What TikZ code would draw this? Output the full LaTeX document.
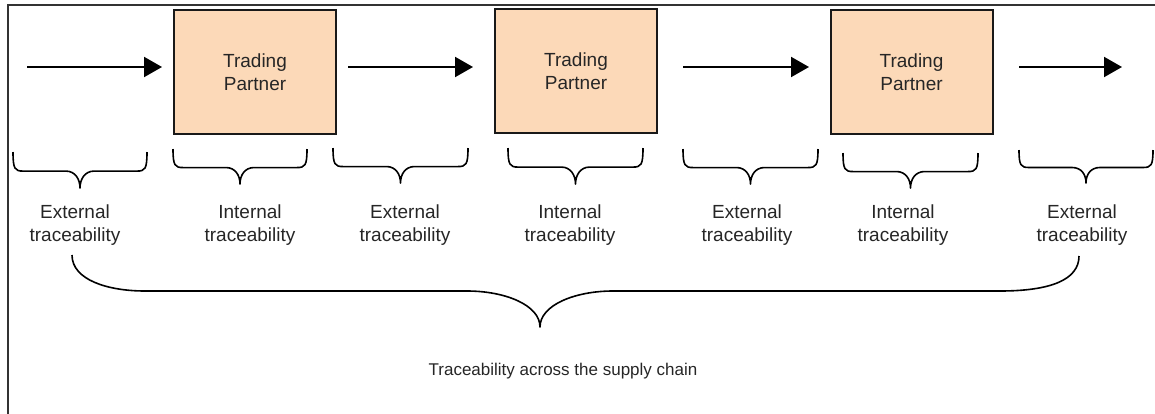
\documentclass[tikz,border=0pt]{standalone}
\usepackage{fontspec}
\setmainfont{Liberation Sans}
\usetikzlibrary{arrows.meta}
\definecolor{partner}{RGB}{252,217,184}

% curly brace opening downwards: left x, right x, top y, depth of the tip
\newcommand\spanbrace[4]{%
  \pgfmathsetmacro\bh{0.53*#4}%
  \pgfmathsetmacro\bl{(#2-#1)/2-24}%
  \pgfmathsetmacro\bt{#4-\bh}%
  \draw[bracestyle] (#1,#3)
    .. controls +(0,{0.9*\bh}) and +(-8,0) .. ++(10,\bh)
    -- ++(\bl,0)
    .. controls +(9,0) and +(0,-9) .. ++(14,\bt)
    .. controls +(0,-9) and +(-9,0) .. ++(14,-\bt)
    -- ++(\bl,0)
    .. controls +(8,0) and +(0,{0.9*\bh}) .. ++(10,-\bh);
}

\begin{document}
\begin{tikzpicture}[x=1pt,y=-1pt,
  partnerbox/.style={draw=black!90, line width=2pt, fill=partner,
    minimum width=162pt, minimum height=124pt, inner sep=0pt,
    align=center, font=\fontsize{19}{23}\selectfont, text=black!85},
  flow/.style={line width=2pt, -{Triangle[length=18pt,width=20pt]}},
  bracestyle/.style={line width=1.6pt, line join=round},
  label/.style={align=center, font=\fontsize{19}{23}\selectfont, text=black!85}]

\useasboundingbox (0,0) rectangle (1155,413);
\clip (0,0) rectangle (1155,413);

% outer frame (runs past the right and lower edges)
\draw[line width=1.6pt, black!80] (8,430) -- (8,5) -- (1170,5);

% trading partners
\node[partnerbox] (tp1) at (255,72) {Trading\\Partner};
\node[partnerbox] (tp2) at (576,71) {Trading\\Partner};
\node[partnerbox] (tp3) at (911.5,72) {Trading\\Partner};

% flow of goods
\coordinate (a1s) at (27,67);   \coordinate (a1e) at (162,67);
\coordinate (a2s) at (348,67);  \coordinate (a2e) at (473,67);
\coordinate (a3s) at (683,67);  \coordinate (a3e) at (809,67);
\coordinate (a4s) at (1019,67); \coordinate (a4e) at (1122,67);
\draw[flow] (a1s) -- (a1e);
\draw[flow] (a2s) -- (a2e);
\draw[flow] (a3s) -- (a3e);
\draw[flow] (a4s) -- (a4e);

% braces over each stage
\spanbrace{13}{147}{152}{36}
\spanbrace{173}{307}{149}{35}
\spanbrace{333}{468}{148}{35}
\spanbrace{508}{643}{148}{36}
\spanbrace{683}{818}{149}{35}
\spanbrace{843}{978}{153}{35}
\spanbrace{1019}{1153}{150}{33}

% stage labels
\node[label] (ext1) at (75,225.5)   {External\\traceability};
\node[label] (int1) at (250,225.5)  {Internal\\traceability};
\node[label] (ext2) at (405,225.5)  {External\\traceability};
\node[label] (int2) at (570,225.5)  {Internal\\traceability};
\node[label] (ext3) at (747,225.5)  {External\\traceability};
\node[label] (int3) at (903,225.5)  {Internal\\traceability};
\node[label] (ext4) at (1082,225.5) {External\\traceability};

% brace spanning the whole chain
\draw[bracestyle] (72,255) .. controls (72,280) and (108,291) .. (145,291)
  -- (467,291) .. controls (505,291) and (540,305) .. (540,327)
  .. controls (540,305) and (575,291) .. (613,291)
  -- (1000,291) .. controls (1050,291) and (1079,280) .. (1079,256);

\node[label, font=\fontsize{17}{20}\selectfont] (chain) at (563,371)
  {Traceability across the supply chain};
\end{tikzpicture}
\end{document}
